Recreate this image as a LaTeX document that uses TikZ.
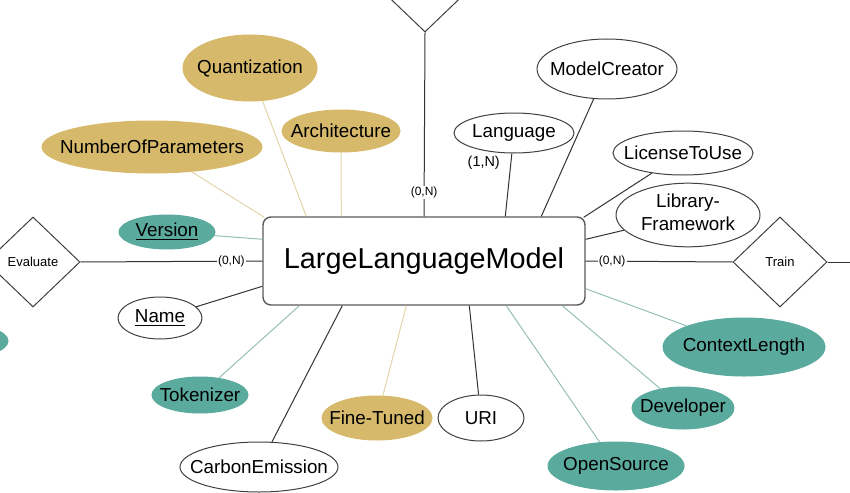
\documentclass[tikz,border=0pt]{standalone}
\usepackage{fontspec}
\setmainfont{Liberation Sans}
\usetikzlibrary{shapes.geometric,calc}
\definecolor{gold}{RGB}{214,185,106}
\definecolor{teal}{RGB}{90,170,158}
\definecolor{tanline}{RGB}{228,212,170}
\definecolor{tealline}{RGB}{150,190,185}
\newcommand{\lbl}[1]{\makebox[0pt]{#1}}
\begin{document}
\begin{tikzpicture}[x=0.5pt,y=-0.5pt,
	attr/.style={ellipse,draw=black!75,line width=0.5pt,inner sep=0pt,font=\fontsize{9.4}{11}\selectfont},
	gattr/.style={attr,fill=gold,draw=gold},
	tattr/.style={attr,fill=teal,draw=teal},
	entity/.style={draw=black!65,line width=0.7pt,rounded corners=4pt,minimum width=161pt,minimum height=44pt,font=\fontsize{14.4}{16}\selectfont},
	rel/.style={diamond,draw=black!75,line width=0.5pt,inner sep=0pt,minimum width=47pt,minimum height=45pt,font=\fontsize{6.5}{7}\selectfont},
	card/.style={fill=white,inner sep=0.6pt,font=\fontsize{6}{7}\selectfont},
	line/.style={draw=black!80,line width=0.5pt},
	gline/.style={draw=tanline,line width=0.5pt},
	tline/.style={draw=tealline,line width=0.5pt}]
		\useasboundingbox (0,0) rectangle (850,492);
		\clip (0,0) rectangle (850,492);
		% entity and relationships
		\node[entity] (llm) at (424,261) {LargeLanguageModel};
		\node[rel] (top) at (425,-13) {};
		\node[rel] (eval) at (33,262) {Evaluate};
		\node[rel] (train) at (780,262) {Train};
		\coordinate (trainend) at (850,262);
		\node[tattr,minimum width=48pt,minimum height=17pt] (left) at (-40,341) {};
		% attributes above
		\node[gattr,minimum width=67pt,minimum height=33pt] (quant) at (250,68) {\lbl{Quantization}};
		\node[gattr,minimum width=110pt,minimum height=26pt] (nparam) at (152,147) {\lbl{NumberOfParameters}};
		\node[gattr,minimum width=59pt,minimum height=21pt] (arch) at (341,131) {\lbl{Architecture}};
		\node[tattr,minimum width=48pt,minimum height=17pt] (version) at (167,232) {\lbl{\underline{Version}}};
		\node[attr,minimum width=70pt,minimum height=30pt] (creator) at (607,69) {\lbl{ModelCreator}};
		\node[attr,minimum width=60pt,minimum height=20pt] (lang) at (514,133) {\lbl{Language}};
		\node[attr,minimum width=70pt,minimum height=22pt] (license) at (683,153) {\lbl{LicenseToUse}};
		\node[attr,minimum width=72pt,minimum height=30pt] (lib) at (688,215) {\lbl{\begin{tabular}{@{}c@{}}Library-\\[0.5pt]Framework\end{tabular}}};
		% attributes below
		\node[attr,minimum width=42pt,minimum height=21pt] (name) at (160,318) {\lbl{\underline{Name}}};
		\node[tattr,minimum width=48pt,minimum height=18pt] (token) at (200,395) {\lbl{Tokenizer}};
		\node[attr,minimum width=79pt,minimum height=25pt] (carbon) at (259,467) {\lbl{CarbonEmission}};
		\node[gattr,minimum width=55pt,minimum height=22pt] (tuned) at (377,418) {\lbl{Fine-Tuned}};
		\node[attr,minimum width=43pt,minimum height=23pt] (uri) at (481,418) {\lbl{URI}};
		\node[tattr,minimum width=68pt,minimum height=24pt] (open) at (616,466) {\lbl{OpenSource}};
		\node[tattr,minimum width=51pt,minimum height=21pt] (dev) at (683,408) {\lbl{Developer}};
		\node[tattr,minimum width=81pt,minimum height=29pt] (ctx) at (744,347) {\lbl{ContextLength}};
		% relationship lines
		\draw[line] (top.south) -- node[card,pos=0.87]{(0,N)} (llm.north);
		\draw[line] (eval.east) -- node[card,pos=0.83]{(0,N)} (llm.west);
		\draw[line] (llm.east) -- node[card,pos=0.18]{(0,N)} (train.west);
		\draw[line] (train.east) -- (trainend);
		% attribute lines
		\draw[gline] (quant) -- ($(llm.north west)+(44,0)$);
		\draw[gline] (arch) -- ($(llm.north west)+(79,0)$);
		\draw[gline] (nparam) -- ($(llm.north west)+(2,1)$);
		\draw[tline] (version) -- ($(llm.north west)+(0,23)$);
		\draw[line] (lang) -- node[font=\fontsize{7.2}{8}\selectfont,left=2pt,pos=0.15]{(1,N)} ($(llm.north west)+(243,0)$);
		\draw[line] (creator) -- ($(llm.north west)+(279,0)$);
		\draw[line] (license) -- ($(llm.north east)+(-2,1)$);
		\draw[line] (lib) -- ($(llm.north east)+(0,23)$);
		\draw[line] (name) -- ($(llm.north west)+(0,70)$);
		\draw[tline] (token) -- ($(llm.south west)+(37,0)$);
		\draw[line] (carbon) -- ($(llm.south west)+(80,0)$);
		\draw[gline] (tuned) -- ($(llm.south west)+(144,0)$);
		\draw[line] (uri) -- ($(llm.south west)+(207,0)$);
		\draw[tline] (open) -- ($(llm.south west)+(244,0)$);
		\draw[tline] (dev) -- ($(llm.south west)+(300,0)$);
		\draw[tline] (ctx) -- ($(llm.south east)+(0,-17)$);
\end{tikzpicture}
\end{document}
